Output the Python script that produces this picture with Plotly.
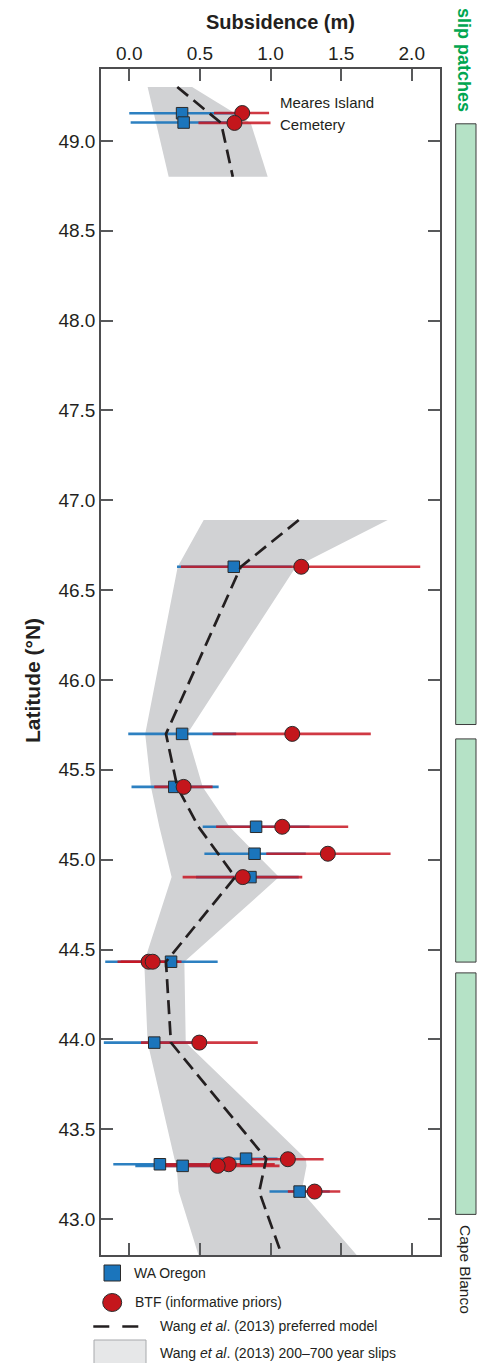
import numpy as np
import plotly.graph_objects as go

FONT = "Liberation Sans Narrow, Liberation Sans, Arial Narrow, sans-serif"
INK = "#231f20"
BLUE = "#1b75bc"
RED = "#c4161c"
BAND = "#d1d2d4"
PATCH = "#b5e2c6"

# ---- WA Oregon estimates (latitude, subsidence, error range) ----
wa_lat = [49.154, 49.102, 46.630, 45.700, 45.405, 45.183, 45.033, 44.903,
          44.432, 43.982, 43.336, 43.305, 43.296, 43.153]
wa_sub = [0.374, 0.385, 0.740, 0.374, 0.319, 0.898, 0.887, 0.858,
          0.296, 0.177, 0.827, 0.217, 0.378, 1.206]
wa_low = [0.000, 0.010, 0.338, -0.007, 0.016, 0.520, 0.532, 0.473,
          -0.170, -0.180, 0.590, -0.113, 0.043, 0.993]
wa_high = [0.750, 0.760, 1.150, 0.757, 0.633, 1.277, 1.250, 1.200,
           0.626, 0.550, 1.050, 0.550, 0.700, 1.420]

# ---- BTF (informative priors) estimates ----
btf_lat = [49.155, 49.100, 46.630, 45.700, 45.405, 45.183, 45.033, 44.903,
           44.432, 44.432, 43.982, 43.333, 43.305, 43.296, 43.153]
btf_sub = [0.800, 0.745, 1.218, 1.154, 0.385, 1.083, 1.406, 0.804,
           0.137, 0.166, 0.496, 1.123, 0.704, 0.626, 1.312]
btf_low = [0.600, 0.490, 0.366, 0.590, 0.177, 0.615, 0.970, 0.378,
           -0.083, -0.060, 0.083, 0.860, 0.250, 0.190, 1.123]
btf_high = [0.990, 1.000, 2.060, 1.710, 0.590, 1.550, 1.850, 1.225,
            0.350, 0.370, 0.910, 1.376, 1.030, 1.064, 1.494]

# ---- Wang et al. (2013) model: preferred profile and 200-700 yr envelope ----
wang_n_lat = [49.30, 49.10, 48.80]
wang_n_pref = [0.34, 0.65, 0.733]
wang_n_low = [0.13, 0.19, 0.279]
wang_n_high = [0.445, 0.86, 0.98]

wang_s_lat = [46.89, 46.63, 45.70, 45.405, 45.183, 45.033, 44.903,
              44.432, 43.982, 43.336, 43.296, 43.153, 42.80]
wang_s_pref = [1.20, 0.79, 0.26, 0.34, 0.49, 0.626, 0.75,
               0.26, 0.295, 0.97, 0.96, 0.92, 1.08]
wang_s_low = [0.527, 0.343, 0.113, 0.154, 0.213, 0.26, 0.30,
              0.106, 0.13, 0.32, 0.335, 0.35, 0.49]
wang_s_high = [1.83, 1.18, 0.41, 0.52, 0.71, 0.90, 1.06,
               0.39, 0.40, 1.25, 1.255, 1.22, 1.61]

# ---- slip patches (latitude spans) ----
patch_south = [45.752, 44.430, 43.026]
patch_north = [49.095, 45.672, 44.370]

# ---- axes ----
sub_ticks = [0.0, 0.5, 1.0, 1.5, 2.0]
lat_ticks = [43.0, 43.5, 44.0, 44.5, 45.0, 45.5, 46.0, 46.5, 47.0, 47.5,
             48.0, 48.5, 49.0]
sub_range = [-0.2, 2.2]
lat_range = [42.8, 49.4]

W, H = 477, 1363
ML, MR, MT, MB = 101, 37, 69, 108
PW, PH = W - ML - MR, H - MT - MB


def px(xp):
    return (xp - ML) / PW


def py(yp):
    return (H - MB - yp) / PH


fig = go.Figure()


def band(lat, low, high):
    xs = list(low) + list(high)[::-1] + [low[0]]
    ys = list(lat) + list(lat)[::-1] + [lat[0]]
    fig.add_trace(go.Scatter(x=xs, y=ys, mode="lines", fill="toself",
                             fillcolor=BAND, line=dict(width=0),
                             hoverinfo="skip", showlegend=False))


band(wang_n_lat, wang_n_low, wang_n_high)
band(wang_s_lat, wang_s_low, wang_s_high)


def err_trace(x, y, lo, hi, color):
    x = np.array(x)
    fig.add_trace(go.Scatter(
        x=x, y=y, mode="markers",
        marker=dict(size=1, color="rgba(0,0,0,0)"),
        error_x=dict(type="data", symmetric=False,
                     array=np.array(hi) - x, arrayminus=x - np.array(lo),
                     color=color, thickness=2.6, width=0),
        hoverinfo="skip", showlegend=False))


err_trace(wa_sub, wa_lat, wa_low, wa_high, "rgba(27,117,188,0.92)")
err_trace(btf_sub, btf_lat, btf_low, btf_high, "rgba(200,22,34,0.85)")

fig.add_trace(go.Scatter(
    x=wa_sub, y=wa_lat, mode="markers", name="WA Oregon",
    marker=dict(symbol="square", size=11.5, color=BLUE,
                line=dict(color="#2b2b2b", width=1)),
    showlegend=False))

# preferred model (gap between northern and southern segments)
fig.add_trace(go.Scatter(
    x=wang_n_pref + [None] + wang_s_pref,
    y=wang_n_lat + [None] + wang_s_lat,
    mode="lines", line=dict(color=INK, width=2.7, dash="14px,7px"),
    connectgaps=False, hoverinfo="skip", showlegend=False))

fig.add_trace(go.Scatter(
    x=btf_sub, y=btf_lat, mode="markers", name="BTF (informative priors)",
    marker=dict(symbol="circle", size=15, color=RED,
                line=dict(color="#2b2b2b", width=1)),
    showlegend=False))

# slip patch bars to the right of the plot
for s, n in zip(patch_south, patch_north):
    fig.add_shape(type="rect", xref="paper", yref="y",
                  x0=px(455.7), x1=px(476), y0=s, y1=n,
                  fillcolor=PATCH, line=dict(color="#3c3c3c", width=1))

ann = []
ann.append(dict(text="<b>Subsidence (m)</b>", xref="paper", yref="paper",
                x=px(280), y=py(22), xanchor="center", yanchor="middle",
                showarrow=False, font=dict(size=20, color=INK, family=FONT)))
ann.append(dict(text="<b>Latitude (°N)</b>", xref="paper", yref="paper",
                x=px(32), y=py(681), xanchor="center", yanchor="middle",
                textangle=-90, showarrow=False,
                font=dict(size=21, color=INK, family=FONT)))
ann.append(dict(text="<b>slip patches</b>", xref="paper", yref="paper",
                x=px(464), y=py(60), xanchor="center", yanchor="middle",
                textangle=90, showarrow=False,
                font=dict(size=18, color="#00a651", family=FONT)))
ann.append(dict(text="Cape Blanco", xref="paper", yref="paper",
                x=px(466), y=py(1269), xanchor="center", yanchor="middle",
                textangle=90, showarrow=False,
                font=dict(size=15.5, color=INK, family=FONT)))
ann.append(dict(text="Meares Island", xref="x", yref="y",
                x=1.05, y=49.211, xanchor="left", yanchor="middle",
                showarrow=False, font=dict(size=15, color=INK, family=FONT)))
ann.append(dict(text="Cemetery", xref="x", yref="y",
                x=1.05, y=49.089, xanchor="left", yanchor="middle",
                showarrow=False, font=dict(size=15, color=INK, family=FONT)))

# legend, drawn below the plot
leg_font = dict(size=14, color=INK, family=FONT)
fig.add_shape(type="rect", xref="paper", yref="paper",
              x0=px(104), x1=px(120.5), y0=py(1281), y1=py(1265),
              fillcolor=BLUE, line=dict(color="#2b2b2b", width=1))
fig.add_shape(type="circle", xref="paper", yref="paper",
              x0=px(102.7), x1=px(121.7), y0=py(1311.5), y1=py(1293.5),
              fillcolor=RED, line=dict(color="#2b2b2b", width=1))
fig.add_shape(type="line", xref="paper", yref="paper",
              x0=px(93.3), x1=px(148), y0=py(1326.5), y1=py(1326.5),
              line=dict(color=INK, width=2.6, dash="16px,13px"))
fig.add_shape(type="rect", xref="paper", yref="paper",
              x0=px(94), x1=px(146), y0=py(1366), y1=py(1340),
              fillcolor="#e6e7e8", line=dict(color="#a7a9ac", width=1))
for label, xl, yc in [("WA Oregon", 131.5, 1273),
                      ("BTF (informative priors)", 132.5, 1302),
                      ("Wang <i>et al</i>. (2013) preferred model", 158, 1325.5),
                      ("Wang <i>et al</i>. (2013) 200–700 year slips", 158, 1352.5)]:
    ann.append(dict(text=label, xref="paper", yref="paper", x=px(xl),
                    y=py(yc), xanchor="left", yanchor="middle",
                    showarrow=False, font=leg_font))

axis_common = dict(showline=True, linecolor="#4d4d4f", linewidth=1.5,
                   mirror="ticks", ticks="inside", ticklen=12, tickwidth=1.5,
                   tickcolor="#58595b", showgrid=False, zeroline=False,
                   tickformat=".1f",
                   tickfont=dict(size=19, color=INK, family=FONT))
fig.update_xaxes(range=sub_range, side="top", tickvals=sub_ticks,
                 **axis_common)
fig.update_yaxes(range=lat_range, tickvals=lat_ticks, **axis_common)

fig.update_layout(width=W, height=H, autosize=False,
                  margin=dict(l=ML, r=MR, t=MT, b=MB, pad=0),
                  plot_bgcolor="white", paper_bgcolor="white",
                  showlegend=False, annotations=ann,
                  font=dict(family=FONT, color=INK))

fig.write_html("out.html")
